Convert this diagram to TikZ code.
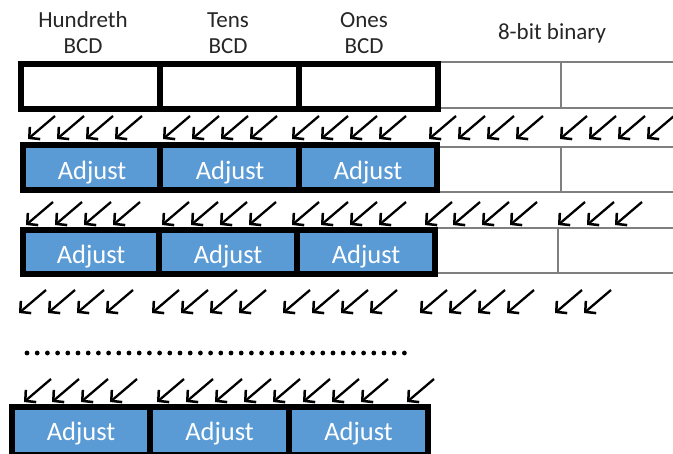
\documentclass[tikz,border=0pt]{standalone}
\usepackage{fontspec}
\setmainfont{Carlito}
\usetikzlibrary{arrows.meta}
\definecolor{bcdblue}{HTML}{5B9BD5}
\definecolor{thingray}{HTML}{7F7F7F}
\begin{document}
\begin{tikzpicture}[x=1pt,y=-1pt,
  arr/.style={line width=2.3pt,-{Straight Barb[length=7.5pt,width=16pt,line width=2.5pt]}},
  thickl/.style={line width=6pt,draw=black},
  thinl/.style={line width=1.3pt,draw=thingray},
  adj/.style={text=white,inner sep=0pt,font=\fontsize{26.5}{30}\selectfont},
  hdr/.style={font=\fontsize{23}{26}\selectfont,align=center,inner sep=0pt,text=black!85},
  dotc/.style={fill=black}]
\useasboundingbox (0,0) rectangle (673,454);

% headers
\node[hdr] (hH) at (83,33) {Hundreth\\BCD};
\node[hdr] (hT) at (228,33) {Tens\\BCD};
\node[hdr] (hO) at (364,33) {Ones\\BCD};
\node[hdr] (hB) at (552,33) {8-bit binary};

% register 1
\draw[thinl] (438,62) -- (673,62) (438,108) -- (673,108) (561,62) -- (561,108);
\path[fill=white] (21,64) rectangle (438,109);
\draw[thickl] (21,64) rectangle (438,109);
\draw[thickl] (160,64) -- (160,109) (299,64) -- (299,109);

% register 2
\draw[thinl] (437,147) -- (673,147) (437,192) -- (673,192) (561,147) -- (561,192);
\path[fill=bcdblue] (23,145.5) rectangle (437,190);
\draw[thickl] (23,145.5) rectangle (437,190);
\draw[thickl] (160,145.5) -- (160,190) (299,145.5) -- (299,190);
\node[adj,anchor=base] (a21) at (92,179.5) {Adjust};
\node[adj,anchor=base] (a22) at (230,179.5) {Adjust};
\node[adj,anchor=base] (a23) at (368,179.5) {Adjust};

% register 3
\draw[thinl] (435,228) -- (673,228) (435,273) -- (673,273) (558,228) -- (558,273);
\path[fill=bcdblue] (23,230.5) rectangle (435,274);
\draw[thickl] (23,230.5) rectangle (435,274);
\draw[thickl] (159,230.5) -- (159,274) (297,230.5) -- (297,274);
\node[adj,anchor=base] (a31) at (91,264) {Adjust};
\node[adj,anchor=base] (a32) at (228,264) {Adjust};
\node[adj,anchor=base] (a33) at (366,264) {Adjust};

% register 4
\path[fill=bcdblue] (12,407.5) rectangle (428,455);
\draw[thickl] (12,407.5) rectangle (428,455);
\draw[thickl] (150,407.5) -- (150,455) (289,407.5) -- (289,455);
\node[adj,anchor=base] (a41) at (81,441) {Adjust};
\node[adj,anchor=base] (a42) at (219.5,441) {Adjust};
\node[adj,anchor=base] (a43) at (358.5,441) {Adjust};

% arrows
\foreach \x in {28,57,86,115,163,192,221,250,292,321,350,379,429,458,487,516,560,589,618,647}
  \draw[arr] ({\x+27},116) -- (\x,139);
\foreach \x in {26,55,84,113,162,191,220,249,292,321,350,379,425,453,482,510,558,587,615}
  \draw[arr] ({\x+27},202) -- (\x,225);
\foreach \x in {19,48,77,106,152,181,210,239,283,312,341,370,420,449,478,507,555,584}
  \draw[arr] ({\x+27},290) -- (\x,313);
\foreach \x in {24,52,81,110,157,186,215,244,273,303,332,361,407}
  \draw[arr] ({\x+27},379) -- (\x,402);

% dots
\foreach \i in {0,...,37}
  \fill[dotc] ({27+10.2*\i},353) circle (2.4pt);
\end{tikzpicture}
\end{document}
